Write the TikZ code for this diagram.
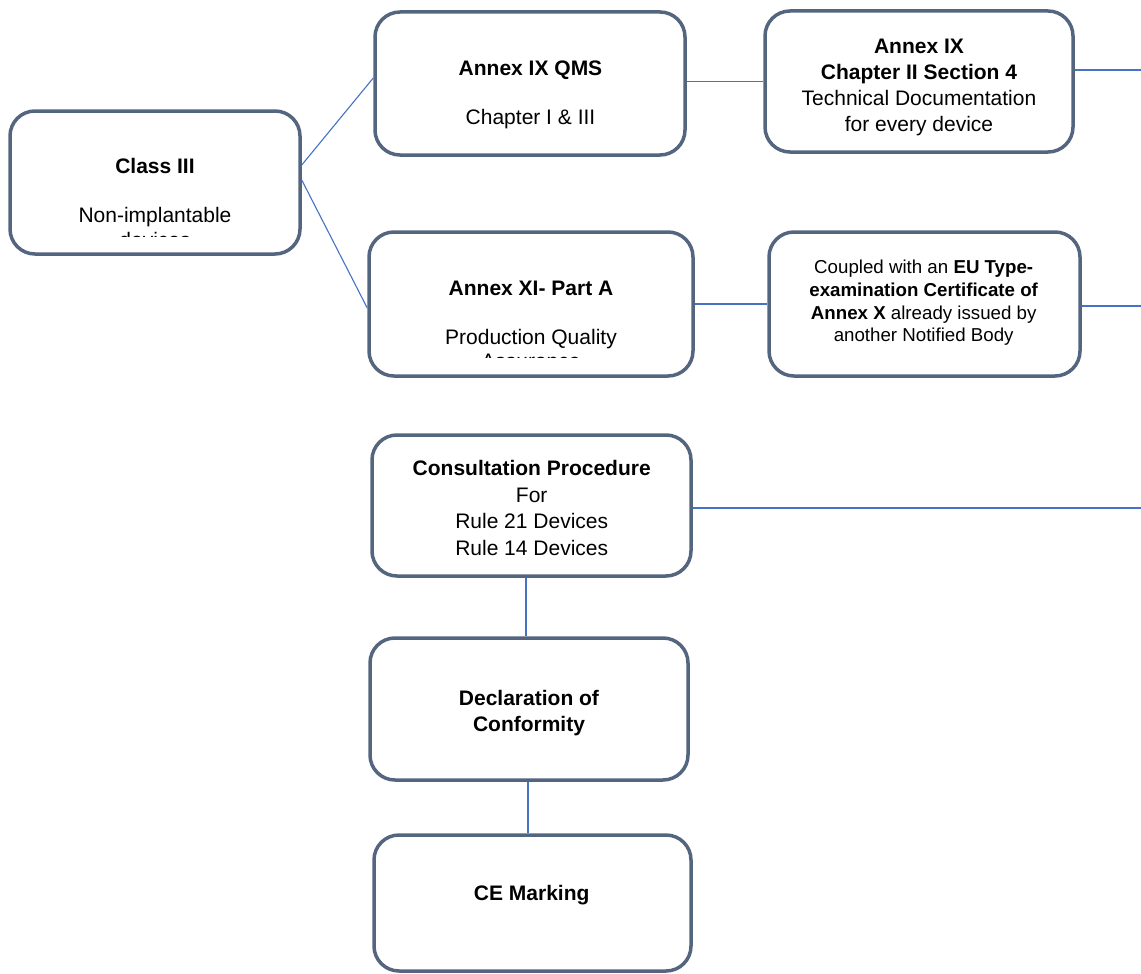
\documentclass[tikz,border=0pt]{standalone}
\usepackage{fontspec}
\setmainfont{Liberation Sans}
\usetikzlibrary{calc}
\definecolor{boxline}{HTML}{54667F}
\definecolor{connblue}{HTML}{4472C4}
\tikzset{
  box/.style={draw=boxline, line width=3.5pt, rounded corners=25pt, fill=white, inner sep=0pt},
  link/.style={draw=connblue, line width=1.1pt},
  txt/.style={align=center, inner sep=0pt, font=\fontsize{21}{24.5}\selectfont},
  txtwide/.style={align=center, inner sep=0pt, font=\fontsize{21}{26}\selectfont},
  txtsmall/.style={align=center, inner sep=0pt, font=\fontsize{18.7}{22.7}\selectfont},
}
\begin{document}
\begin{tikzpicture}[x=1pt,y=-1pt]
\useasboundingbox (0,0) rectangle (1141,974);

% right-edge free ends
\coordinate (r1) at (1141,70);
\coordinate (r2) at (1141,306);
\coordinate (r3) at (1141,508);

% boxes
\node[box, minimum width=290pt, minimum height=143pt] (classiii) at (155,182.5) {};
\node[box, minimum width=310pt, minimum height=143pt] (qms) at (530,83.5) {};
\node[box, minimum width=308pt, minimum height=141pt] (ch2) at (919,81.5) {};
\node[box, minimum width=324pt, minimum height=144pt] (xi) at (531,304) {};
\node[box, minimum width=311pt, minimum height=144pt] (coupled) at (924.5,304) {};
\node[box, minimum width=319pt, minimum height=141pt] (consult) at (531.5,505.5) {};
\node[box, minimum width=318pt, minimum height=142pt] (decl) at (529,709) {};
\node[box, minimum width=317pt, minimum height=136pt] (ce) at (532.5,903) {};

% texts
\begin{scope}
  \clip (10,111) rectangle (300,236.5);
  \node[txt] (classiiitext) at (155,203) {\textbf{Class III}\\[24.5pt]Non-implantable\\devices};
\end{scope}
\node[txt] (qmstext) at (530.5,94.5) {\textbf{Annex IX QMS}\\[24.5pt]Chapter I \& III};
\node[txtwide] (ch2text) at (919,87) {\textbf{Annex IX}\\\textbf{Chapter II Section 4}\\Technical Documentation\\for every device};
\begin{scope}
  \clip (369,232) rectangle (693,357.5);
  \node[txt] (xitext) at (531,324.8) {\textbf{Annex XI- Part A}\\[24.5pt]Production Quality\\Assurance};
\end{scope}
\node[txtsmall] (coupledtext) at (923.7,303) {Coupled with an \textbf{EU Type-}\\\textbf{examination Certificate of}\\\textbf{Annex X} already issued by\\another Notified Body};
\node[txtwide, font=\fontsize{21}{26.5}\selectfont] (consulttext) at (531.7,508) {\textbf{Consultation Procedure}\\For\\Rule 21 Devices\\Rule 14 Devices};
\node[txtwide] (decltext) at (529,713) {\textbf{Declaration of}\\\textbf{Conformity}};
\node[txt] (cetext) at (531.7,895) {\textbf{CE Marking}};

% connectors
\draw[link] ($(classiii.east)+(0,-17.5)$) -- ($(qms.west)+(0,-5.5)$);
\draw[link] ($(classiii.east)+(0,-2.5)$) -- ($(xi.west)+(0,4)$);
\draw[link] (ch2.west) -- (ch2.west -| qms.east);
\draw[link] (ch2.east |- r1) -- (r1);
\draw[link] (xi.east) -- (coupled.west);
\draw[link] (coupled.east |- r2) -- (r2);
\draw[link] (consult.east |- r3) -- (r3);
\draw[link] ($(consult.south)+(-5.5,0)$) coordinate (c1) -- (c1 |- decl.north);
\draw[link] ($(decl.south)+(-1,0)$) coordinate (c2) -- (c2 |- ce.north);
\end{tikzpicture}
\end{document}
